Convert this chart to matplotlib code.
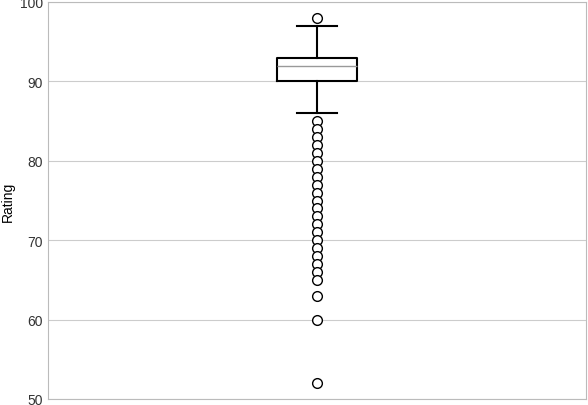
import matplotlib
matplotlib.use("Agg")
import matplotlib.pyplot as plt

# box summary
q1, median, q3 = 90, 92, 93
whislo, whishi = 86, 97
outliers = [98, 85, 84, 83, 82, 81, 80, 79, 78, 77, 76, 75, 74, 73, 72,
            71, 70, 69, 68, 67, 66, 65, 63, 60, 52]
yticks = [50, 60, 70, 80, 90, 100]

fig = plt.figure(figsize=(5.88, 4.06), dpi=100)
ax = fig.add_axes([48 / 588, 6 / 406, 538 / 588, 397 / 406])

stats = [dict(med=median, q1=q1, q3=q3, whislo=whislo, whishi=whishi, fliers=outliers)]
ax.bxp(stats, positions=[0], widths=0.15, showfliers=True,
       boxprops=dict(color="black", linewidth=1.5),
       whiskerprops=dict(color="black", linewidth=1.5),
       capprops=dict(color="black", linewidth=1.5),
       medianprops=dict(color="#999999", linewidth=1),
       flierprops=dict(marker="o", markerfacecolor="white", markeredgecolor="black",
                       markersize=7, linestyle="none"))

ax.set_xlim(-0.5, 0.5)
ax.set_ylim(50, 100)
ax.set_yticks(yticks)
ax.set_xticks([])
ax.set_ylabel("Rating", fontsize=10, family="Liberation Sans")
for lab in ax.get_yticklabels():
    lab.set_family("Liberation Sans")
    lab.set_fontsize(10)
ax.tick_params(axis="y", length=0, colors="#333333")
ax.grid(axis="y", color="#cccccc", linewidth=0.8)
ax.set_axisbelow(True)
for s in ax.spines.values():
    s.set_color("#bbbbbb")

fig.savefig("out.png", dpi=100)
